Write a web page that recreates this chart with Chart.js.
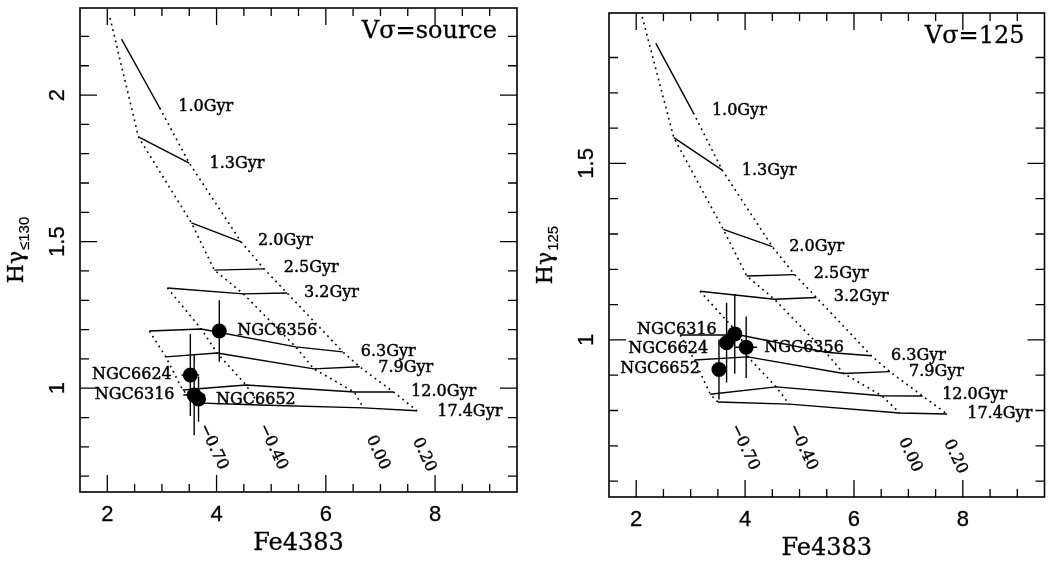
<!DOCTYPE html>
<html><head><meta charset="utf-8">
<script src="https://cdn.jsdelivr.net/npm/chart.js@4/dist/chart.umd.min.js"></script>
<style>
html,body{margin:0;padding:0;background:#fff;width:1052px;height:563px;overflow:hidden}
.wrap{position:absolute;top:0;height:563px}
</style></head>
<body>
<div class="wrap" style="left:0;width:530px"><canvas id="c1"></canvas></div>
<div class="wrap" style="left:530px;width:522px"><canvas id="c2"></canvas></div>
<script>
// ---------- shared categories ----------
const ages = ['1.0Gyr','1.3Gyr','2.0Gyr','2.5Gyr','3.2Gyr','6.3Gyr','7.9Gyr','12.0Gyr','17.4Gyr'];
const metals = ['\u22120.70','\u22120.40','0.00','0.20'];
const clusters = ['NGC6356','NGC6624','NGC6316','NGC6652'];
const xTickLabels = [2,4,6,8];

// ---------- LEFT panel: Vσ = source ----------
const L_yTickLabels = [1,1.5,2];
// isochrones (solid): Fe4383 and Hγ values per age
const L_isoFe = [[2.26,2.96],[2.57,3.50],[3.54,4.45],[3.96,4.87],[3.10,4.49,5.29],
                 [2.77,3.72,5.45,6.31],[3.07,4.01,5.78,6.62],[3.38,4.54,6.52,7.24],[3.63,4.78,6.69,7.67]];
const L_isoHg = [[2.191,1.956],[1.857,1.768],[1.564,1.499],[1.403,1.407],[1.342,1.322,1.325],
                 [1.195,1.202,1.141,1.124],[1.107,1.120,1.066,1.073],[0.994,1.011,0.987,0.987],[0.950,0.943,0.933,0.923]];
// iso-metallicity (dotted) lines, order = metals
const L_zFe = [[2.77,3.07,3.38,3.63],
               [3.10,3.72,4.01,4.54,4.78],
               [2.05,2.57,3.54,3.96,4.49,5.45,5.78,6.52,6.69],
               [2.96,3.50,4.45,4.87,5.29,6.31,6.62,7.24,7.67]];
const L_zHg = [[1.195,1.107,0.994,0.950],
               [1.342,1.202,1.120,1.011,0.943],
               [2.263,1.857,1.564,1.403,1.322,1.141,1.066,0.987,0.933],
               [1.956,1.768,1.499,1.407,1.325,1.124,1.073,0.987,0.923]];
// clusters
const L_cFe = [4.05,3.52,3.59,3.67];
const L_cHg = [1.195,1.045,0.977,0.963];
const L_cHgErr = [0.105,0.140,0.137,0.077];
const L_cFeErr = [0.00,0.16,0.20,0.10];
// label anchors (data units)
const L_ageLabFe = [3.30,3.87,4.76,5.23,5.60,6.64,6.96,7.56,8.04];
const L_ageLabHg = [1.959,1.765,1.502,1.410,1.325,1.124,1.069,0.987,0.919];
const L_zLabFe = [3.94,5.03,6.95,7.80];
const L_zLabHg = [0.800,0.800,0.780,0.773];
const L_cLabFe = [4.38,3.18,3.23,3.99];
const L_cLabHg = [1.195,1.045,0.977,0.960];
const L_cLabAlign = ['left','right','right','left'];

// ---------- RIGHT panel: Vσ = 125 ----------
const R_yTickLabels = [1,1.5];
const R_isoFe = [[2.36,3.05],[2.69,3.58],[3.60,4.50],[4.03,4.91],[3.17,4.54,5.31],
                 [2.81,3.90,5.48,6.32],[3.07,4.05,5.81,6.66],[3.36,4.57,6.51,7.26],[3.50,4.81,6.84,7.71]];
const R_isoHg = [[1.840,1.643],[1.573,1.481],[1.313,1.264],[1.181,1.185],[1.138,1.115,1.120],
                 [1.014,1.014,0.965,0.955],[0.943,0.952,0.905,0.910],[0.846,0.867,0.842,0.841],[0.824,0.818,0.793,0.790]];
const R_zFe = [[2.81,3.07,3.36,3.50],
               [3.17,3.90,4.05,4.57,4.81],
               [2.11,2.69,3.60,4.03,4.54,5.48,5.81,6.51,6.84],
               [3.05,3.58,4.50,4.91,5.31,6.32,6.66,7.26,7.71]];
const R_zHg = [[1.014,0.943,0.846,0.824],
               [1.138,1.014,0.952,0.867,0.818],
               [1.915,1.573,1.313,1.181,1.115,0.965,0.905,0.842,0.793],
               [1.643,1.481,1.264,1.185,1.120,0.955,0.910,0.841,0.790]];
const R_cFe = [4.02,3.66,3.81,3.52];
const R_cHg = [0.979,0.992,1.017,0.916];
const R_cHgErr = [0.087,0.113,0.113,0.085];
const R_cFeErr = [0.20,0.10,0.10,0.10];
const R_ageLabFe = [3.39,3.94,4.81,5.26,5.63,6.68,7.01,7.62,8.08];
const R_ageLabHg = [1.648,1.479,1.264,1.186,1.122,0.954,0.910,0.844,0.790];
const R_zLabFe = [3.99,5.06,7.03,7.86];
const R_zLabHg = [0.696,0.696,0.674,0.669];
const R_cLabFe = [4.35,3.32,3.48,3.17];
const R_cLabHg = [0.977,0.974,1.028,0.917];
const R_cLabAlign = ['left','right','right','right'];

const SERIF = '"DejaVu Serif", "Liberation Serif", serif';
const SANS = '"Liberation Sans", "DejaVu Sans", sans-serif';

function zip(a, b){ return a.map((v,i)=>({x:v, y:b[i]})); }

// text with a slight stroke to mimic the heavier scanned glyphs
function txt(ctx, s, x, y, sw){
  ctx.lineWidth = sw; ctx.strokeText(s, x, y); ctx.fillText(s, x, y);
}

function buildChart(id, P){
  const datasets = [];
  P.zFe.forEach((fe,i)=>datasets.push({data:zip(fe,P.zHg[i]), showLine:true, pointRadius:0,
      borderColor:'#000', borderWidth:1.6, borderDash:[1.8,4], tension:0}));
  P.isoFe.forEach((fe,i)=>datasets.push({data:zip(fe,P.isoHg[i]), showLine:true, pointRadius:0,
      borderColor:'#000', borderWidth:1.4, tension:0}));
  datasets.push({data:zip(P.cFe,P.cHg), showLine:false, pointRadius:7.5, pointHoverRadius:7.5,
      pointBackgroundColor:'#000', pointBorderColor:'#000', borderWidth:0});

  const decor = {
    id:'decor'+id,
    beforeDatasetsDraw(chart){
      const ctx = chart.ctx, xs = chart.scales.x, ys = chart.scales.y;
      ctx.save(); ctx.strokeStyle='#000'; ctx.lineWidth=1.4;
      P.cFe.forEach((fe,i)=>{
        const x = xs.getPixelForValue(fe), y = ys.getPixelForValue(P.cHg[i]);
        ctx.beginPath();
        ctx.moveTo(x, ys.getPixelForValue(P.cHg[i]-P.cHgErr[i]));
        ctx.lineTo(x, ys.getPixelForValue(P.cHg[i]+P.cHgErr[i]));
        if (P.cFeErr[i] > 0){
          ctx.moveTo(xs.getPixelForValue(fe-P.cFeErr[i]), y);
          ctx.lineTo(xs.getPixelForValue(fe+P.cFeErr[i]), y);
        }
        ctx.stroke();
      });
      ctx.restore();
    },
    afterDraw(chart){
      const ctx = chart.ctx, a = chart.chartArea, xs = chart.scales.x, ys = chart.scales.y;
      ctx.save();
      ctx.strokeStyle='#000'; ctx.fillStyle='#000';
      // frame
      ctx.lineWidth=1.6;
      ctx.strokeRect(a.left, a.top, a.right-a.left, a.bottom-a.top);
      // ticks
      ctx.lineWidth=1.3;
      ctx.beginPath();
      xs.ticks.forEach(t=>{
        const v = t.value;
        if (Math.abs(v*2-Math.round(v*2))>1e-6 || v<=xs.min+1e-6 || v>=xs.max-1e-6) return;
        const major = Math.abs(v/2-Math.round(v/2))<1e-6;
        const len = major?17:8, x = xs.getPixelForValue(v);
        ctx.moveTo(x,a.bottom); ctx.lineTo(x,a.bottom-len);
        ctx.moveTo(x,a.top); ctx.lineTo(x,a.top+len);
      });
      ys.ticks.forEach(t=>{
        const v = t.value;
        if (Math.abs(v*10-Math.round(v*10))>1e-6 || v<=ys.min+1e-6 || v>=ys.max-1e-6) return;
        const major = Math.abs(v*2-Math.round(v*2))<1e-6;
        const len = major?17:9, y = ys.getPixelForValue(v);
        ctx.moveTo(a.left,y); ctx.lineTo(a.left+len,y);
        ctx.moveTo(a.right,y); ctx.lineTo(a.right-len,y);
      });
      ctx.stroke();
      // tick labels
      ctx.font = '22px '+SANS;
      ctx.textAlign='center'; ctx.textBaseline='middle';
      xTickLabels.forEach(v=>txt(ctx, String(v), xs.getPixelForValue(v), a.bottom+23, 0.3));
      P.yTickLabels.forEach(v=>{
        ctx.save(); ctx.translate(a.left-22, ys.getPixelForValue(v)); ctx.rotate(-Math.PI/2);
        txt(ctx, String(v), 0, 0, 0.3); ctx.restore();
      });
      // x title
      ctx.font = '24px '+SERIF;
      txt(ctx, 'Fe4383', (a.left+a.right)/2, a.bottom+52, 0.3);
      // y title (rotated, with subscript)
      ctx.save();
      ctx.translate(a.left-57, (a.top+a.bottom)/2); ctx.rotate(-Math.PI/2);
      ctx.textBaseline='alphabetic'; ctx.textAlign='left';
      ctx.font = '22px '+SERIF; const w1 = ctx.measureText('H\u03b3').width;
      ctx.font = '15px '+SANS; const w2 = ctx.measureText(P.ySub).width;
      const x0 = -(w1+w2+1)/2;
      ctx.font = '22px '+SERIF; txt(ctx, 'H\u03b3', x0, 0, 0.3);
      ctx.font = '15px '+SANS; txt(ctx, P.ySub, x0+w1+1, 6, 0.2);
      ctx.restore();
      // panel title
      ctx.font = '24px '+SERIF; ctx.textAlign='right'; ctx.textBaseline='middle';
      txt(ctx, P.title, a.right-20, a.top+24, 0.3);
      // age labels
      ctx.font = '16px '+SERIF; ctx.textAlign='left';
      ages.forEach((s,i)=>txt(ctx, s, xs.getPixelForValue(P.ageLabFe[i]), ys.getPixelForValue(P.ageLabHg[i]), 0.45));
      // cluster labels
      clusters.forEach((s,i)=>{
        ctx.textAlign = P.cLabAlign[i];
        txt(ctx, s, xs.getPixelForValue(P.cLabFe[i]), ys.getPixelForValue(P.cLabHg[i]), 0.45);
      });
      // metallicity labels (rotated)
      ctx.textAlign='center';
      metals.forEach((s,i)=>{
        ctx.save();
        ctx.translate(xs.getPixelForValue(P.zLabFe[i]), ys.getPixelForValue(P.zLabHg[i]));
        ctx.rotate(65*Math.PI/180);
        txt(ctx, s, 0, 0, 0.4);
        ctx.restore();
      });
      ctx.restore();
    }
  };

  return new Chart(document.getElementById(id), {
    type:'scatter',
    data:{datasets},
    options:{
      responsive:true, maintainAspectRatio:false, animation:false,
      layout:{padding:{left:0, top:P.padTop, right:P.padRight, bottom:0}},
      plugins:{legend:{display:false}, tooltip:{enabled:false}},
      events:[],
      scales:{
        x:{type:'linear', min:1.5, max:9.5, ticks:{stepSize:0.5, display:false},
           grid:{display:false}, border:{display:false},
           afterFit(s){ s.height = P.bottomH; }},
        y:{type:'linear', min:P.yMin, max:P.yMax, ticks:{stepSize:0.1, display:false},
           grid:{display:false}, border:{display:false},
           afterFit(s){ s.width = P.leftW; }}
      }
    },
    plugins:[decor]
  });
}

buildChart('c1', {
  isoFe:L_isoFe, isoHg:L_isoHg, zFe:L_zFe, zHg:L_zHg,
  cFe:L_cFe, cHg:L_cHg, cHgErr:L_cHgErr, cFeErr:L_cFeErr,
  ageLabFe:L_ageLabFe, ageLabHg:L_ageLabHg, zLabFe:L_zLabFe, zLabHg:L_zLabHg,
  cLabFe:L_cLabFe, cLabHg:L_cLabHg, cLabAlign:L_cLabAlign,
  yTickLabels:L_yTickLabels, yMin:0.646, yMax:2.297,
  title:'V\u03c3=source', ySub:'\u2264130',
  leftW:80, padTop:8, padRight:13, bottomH:71
});
buildChart('c2', {
  isoFe:R_isoFe, isoHg:R_isoHg, zFe:R_zFe, zHg:R_zHg,
  cFe:R_cFe, cHg:R_cHg, cHgErr:R_cHgErr, cFeErr:R_cFeErr,
  ageLabFe:R_ageLabFe, ageLabHg:R_ageLabHg, zLabFe:R_zLabFe, zLabHg:R_zLabHg,
  cLabFe:R_cLabFe, cLabHg:R_cLabHg, cLabAlign:R_cLabAlign,
  yTickLabels:R_yTickLabels, yMin:0.555, yMax:1.926,
  title:'V\u03c3=125', ySub:'125',
  leftW:79, padTop:13, padRight:4, bottomH:66
});
</script>
</body></html>
